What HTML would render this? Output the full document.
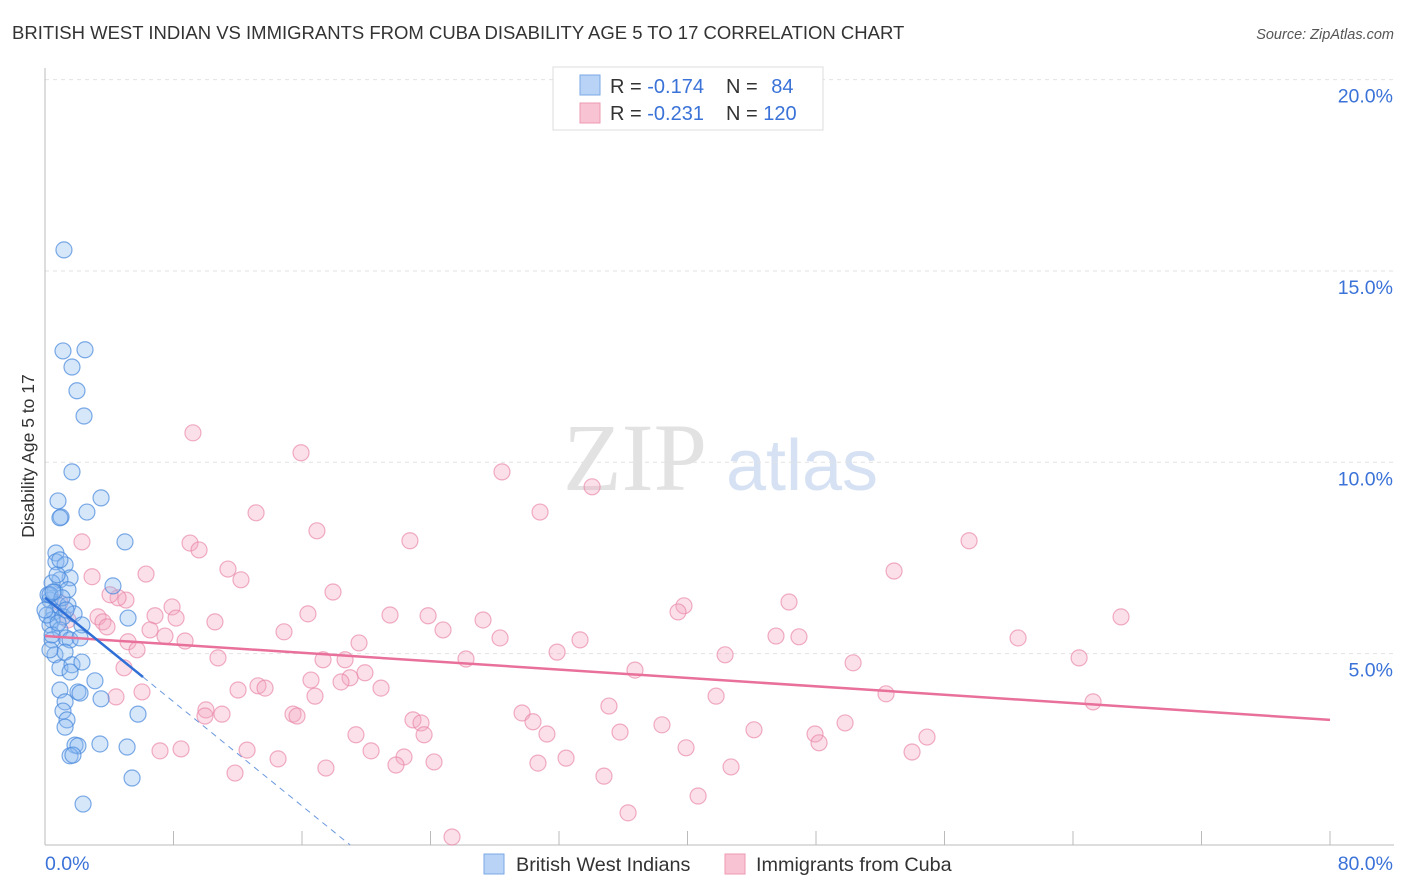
<!DOCTYPE html>
<html><head><meta charset="utf-8"><style>
body{margin:0;background:#fff;font-family:"Liberation Sans",sans-serif;}
svg{display:block}
</style></head><body>
<svg width="1406" height="892" id="chart">
<text x="12" y="39" font-size="18.5" fill="#333">BRITISH WEST INDIAN VS IMMIGRANTS FROM CUBA DISABILITY AGE 5 TO 17 CORRELATION CHART</text>
<text x="1394" y="39" font-size="14.5" fill="#555" font-style="italic" text-anchor="end">Source: ZipAtlas.com</text>
<text x="34" y="456" font-size="17.5" fill="#333" text-anchor="middle" transform="rotate(-90 34 456)">Disability Age 5 to 17</text>
<g>
<text x="635" y="490" font-size="96" font-family="Liberation Serif,serif" fill="#e2e2e2" text-anchor="middle">ZIP</text>
<text x="802" y="490" font-size="72" fill="#d6e2f3" text-anchor="middle">atlas</text>
</g>
<g id="grid"></g>
<g id="axes"></g>
<g id="marks"></g>
<g>
<rect x="553" y="67" width="270" height="63" fill="#fff" stroke="#ddd"/>
<rect x="580" y="75" width="20" height="20" fill="#b8d3f5" stroke="#7aa8e6"/>
<rect x="580" y="103" width="20" height="20" fill="#f8c3d3" stroke="#ee9ab3"/>
<text x="610" y="93" font-size="20" fill="#333">R = <tspan fill="#3a72d8">-0.174</tspan></text>
<text x="726" y="93" font-size="20" fill="#333">N = <tspan fill="#3a72d8" dx="8">84</tspan></text>
<text x="610" y="120" font-size="20" fill="#333">R = <tspan fill="#3a72d8">-0.231</tspan></text>
<text x="726" y="120" font-size="20" fill="#333">N = <tspan fill="#3a72d8">120</tspan></text>
</g>
<g>
<rect x="484" y="854" width="20" height="20" fill="#b8d3f5" stroke="#7aa8e6"/>
<text x="516" y="871" font-size="19.8" fill="#333">British West Indians</text>
<rect x="725" y="854" width="20" height="20" fill="#f8c3d3" stroke="#ee9ab3"/>
<text x="756" y="871" font-size="19.8" fill="#333">Immigrants from Cuba</text>
</g>
</svg>
<script>
const blueX=[1.18,1.12,2.49,1.68,1.99,2.43,1.68,0.81,3.49,1.0,2.61,0.93,4.98,0.68,0.68,4.23,1.25,1.56,0.93,0.44,0.62,1.43,0.31,0.81,1.43,0.56,1.12,0.44,1.81,5.17,0.31,0.93,2.30,1.31,0.44,1.56,2.18,0.62,1.25,0.93,1.68,2.30,1.56,3.11,0.93,2.05,2.18,3.49,1.25,1.12,1.37,1.25,5.79,1.87,2.05,1.56,1.74,3.42,5.11,5.42,2.37,0.31,0.19,0.31,0.75,1.06,0.12,0.44,0.81,1.31,0,0.5,0.93];
const blueY=[15.55,12.91,12.94,12.49,11.87,11.21,9.75,8.99,9.07,8.57,8.70,8.55,7.92,7.63,7.40,6.77,7.32,6.98,6.93,6.85,6.61,6.67,6.40,6.27,6.27,6.09,5.96,5.88,6.04,5.93,5.75,5.62,5.75,5.41,5.36,5.36,5.41,4.97,5.04,4.63,4.71,4.78,4.52,4.29,4.05,4.0,3.97,3.82,3.74,3.50,3.27,3.08,3.42,2.61,2.59,2.33,2.35,2.64,2.56,1.75,1.07,5.10,6.54,6.54,7.06,6.46,6.01,5.49,5.80,6.14,6.14,6.61,7.45];
const pinkX=[9.21,15.94,28.45,34.06,13.14,30.82,16.93,2.30,9.03,9.59,22.72,57.53,11.39,52.86,6.29,2.93,12.20,17.93,5.04,46.32,39.78,39.41,7.91,6.85,3.30,16.37,21.48,23.85,27.27,66.99,10.58,3.61,8.16,3.86,6.54,14.88,24.78,7.47,8.72,19.55,28.33,33.31,45.51,46.94,60.58,5.17,5.73,31.88,42.34,10.77,17.31,18.68,26.21,64.38,50.31,4.92,19.92,36.73,18.99,18.43,16.56,13.26,12.02,13.70,20.92,52.36,41.78,4.42,6.04,16.81,65.25,35.11,29.70,10.02,11.02,9.96,15.44,15.69,22.91,23.41,30.38,38.41,49.81,44.14,35.80,23.60,31.25,19.36,47.94,54.91,48.19,7.16,8.47,39.91,53.98,12.58,14.51,20.30,22.35,24.22,21.85,30.69,32.44,42.71,17.49,11.83,34.80,40.66,36.30,25.34,4.55,4.05,1.43,0.93];
const pinkY=[10.77,10.25,9.75,9.36,8.68,8.70,8.21,7.92,7.89,7.71,7.95,7.95,7.21,7.16,7.08,7.01,6.93,6.61,6.40,6.35,6.25,6.09,6.22,5.99,5.96,6.04,6.01,5.99,5.88,5.96,5.83,5.83,5.93,5.70,5.62,5.57,5.62,5.46,5.33,5.28,5.41,5.36,5.46,5.44,5.41,5.31,5.10,5.04,4.97,4.89,4.84,4.84,4.86,4.89,4.76,4.63,4.50,4.57,4.37,4.26,4.31,4.16,4.05,4.10,4.10,3.95,3.89,3.87,4.00,3.89,3.74,3.63,3.45,3.53,3.42,3.37,3.42,3.37,3.27,3.19,3.22,3.14,3.19,3.01,2.95,2.88,2.90,2.88,2.90,2.82,2.67,2.46,2.51,2.54,2.43,2.48,2.25,2.46,2.30,2.17,2.09,2.14,2.27,2.04,2.01,1.88,1.80,1.28,0.84,0.21,6.46,6.54,5.88,6.33];
const yTicks=[5,10,15,20];
const yTickLabels=["5.0%","10.0%","15.0%","20.0%"];
const pinkTrend=[[0,5.46],[80,3.27]];
const blueTrendSolid=[[0,6.46],[6.1,4.39]];
const blueTrendDash=[[6.1,4.39],[19,0]];

const X0=45,X1=1330,Y0=845,PXY=38.27;
const sx=v=>X0+(X1-X0)*v/80;
const sy=v=>Y0-v*PXY;
const NS="http://www.w3.org/2000/svg";
function mk(tag,attrs,parent){const e=document.createElementNS(NS,tag);for(const k in attrs)e.setAttribute(k,attrs[k]);parent.appendChild(e);return e;}
const grid=document.getElementById('grid'),axes=document.getElementById('axes'),marks=document.getElementById('marks');
yTicks.forEach((t,i)=>{
 const l=mk('line',{x1:X0,x2:1394,y1:sy(t),y2:sy(t),stroke:'#e2e2e2','stroke-dasharray':'4,4'},grid);
 
 
 const tx=mk('text',{x:1393,y:sy(t)+23,'font-size':19.5,fill:'#3a72d8','text-anchor':'end'},axes);
 tx.textContent=yTickLabels[i];
 
 
});
const ax=mk('line',{x1:X0,x2:X0,y1:68,y2:Y0,stroke:'#bbb'},axes);


const bx=mk('line',{x1:X0,x2:1394,y1:Y0,y2:Y0,stroke:'#bbb'},axes);


for(let v=8;v<=80;v+=8){
 const t=mk('line',{x1:sx(v),x2:sx(v),y1:Y0,y2:Y0-14,stroke:'#bbb'},axes);
 
 
}
const xl=mk('text',{x:45,y:870,'font-size':19.5,fill:'#3a72d8'},axes);xl.textContent='0.0%';


const xr=mk('text',{x:1393,y:870,'font-size':19.5,fill:'#3a72d8','text-anchor':'end'},axes);xr.textContent='80.0%';


pinkX.forEach((x,i)=>{
 const c=mk('circle',{cx:sx(x),cy:sy(pinkY[i]),r:8,fill:'rgba(244,166,192,0.35)',stroke:'rgba(232,130,164,0.65)','stroke-width':1.2},marks);
 
 
});
blueX.forEach((x,i)=>{
 const c=mk('circle',{cx:sx(x),cy:sy(blueY[i]),r:8,fill:'rgba(140,185,240,0.35)',stroke:'rgba(70,135,220,0.7)','stroke-width':1.2},marks);
 
 
});
const pt=mk('line',{x1:sx(pinkTrend[0][0]),y1:sy(pinkTrend[0][1]),x2:sx(pinkTrend[1][0]),y2:sy(pinkTrend[1][1]),stroke:'#e8709a','stroke-width':2.5},marks);


const bt=mk('line',{x1:sx(blueTrendSolid[0][0]),y1:sy(blueTrendSolid[0][1]),x2:sx(blueTrendSolid[1][0]),y2:sy(blueTrendSolid[1][1]),stroke:'#2f6fd6','stroke-width':2.5},marks);


const bd=mk('line',{x1:sx(blueTrendDash[0][0]),y1:sy(blueTrendDash[0][1]),x2:sx(blueTrendDash[1][0]),y2:sy(blueTrendDash[1][1]),stroke:'#6a98dd','stroke-width':1,'stroke-dasharray':'6,5'},marks);


</script>
</body></html>
